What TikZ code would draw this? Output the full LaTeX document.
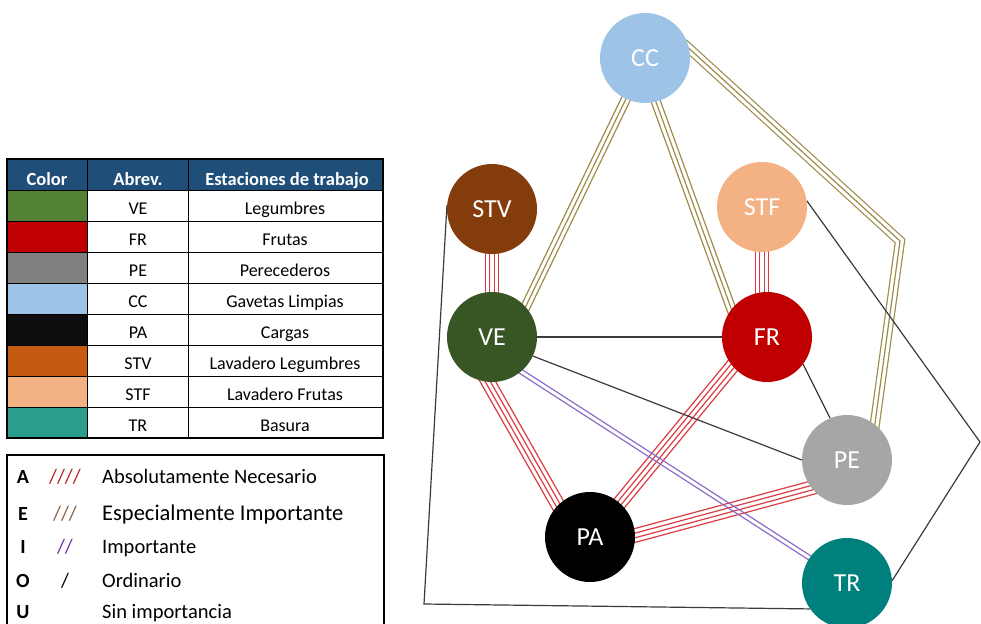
\documentclass[tikz,border=0pt]{standalone}
\usepackage{fontspec}
\setmainfont{Carlito}
\usetikzlibrary{calc}

\pgfdeclarelayer{bg}
\pgfsetlayers{bg,main}

% station colours
\definecolor{cVE}{HTML}{375623}
\definecolor{cFR}{HTML}{C00000}
\definecolor{cPE}{HTML}{A6A6A6}
\definecolor{cCC}{HTML}{9DC3E6}
\definecolor{cPA}{HTML}{000000}
\definecolor{cSTV}{HTML}{843C0C}
\definecolor{cSTF}{HTML}{F4B183}
\definecolor{cTR}{HTML}{00807D}
% swatches in the table
\definecolor{sVE}{HTML}{548235}
\definecolor{sFR}{HTML}{C00000}
\definecolor{sPE}{HTML}{808080}
\definecolor{sCC}{HTML}{9DC3E6}
\definecolor{sPA}{HTML}{0D0D0D}
\definecolor{sSTV}{HTML}{C55A11}
\definecolor{sSTF}{HTML}{F4B183}
\definecolor{sTR}{HTML}{2A9D8F}
% relation line colours
\definecolor{relA}{HTML}{DC3C40}
\definecolor{relE}{HTML}{9C8C48}
\definecolor{relI}{HTML}{8B6CC8}
\definecolor{relO}{HTML}{3A3A3A}
\definecolor{hdrblue}{HTML}{1F4E79}
\definecolor{symA}{HTML}{B02020}
\definecolor{symE}{HTML}{8B5E3C}
\definecolor{symI}{HTML}{7030A0}

% parallel strokes between two points (count, style)
\newcommand\multi[4]{%
  \foreach \k in {1,...,#3}{%
    \pgfmathsetmacro\off{(\k-(#3+1)/2)*4.5}%
    \draw[#4] ($(#1)!\off pt!90:(#2)$) -- ($(#2)!\off pt!-90:(#1)$);
  }}

\tikzset{
  station/.style={circle, minimum size=90pt, inner sep=0pt, text=white,
    font=\fontsize{26}{30}\selectfont},
  rel/.style={line width=1.2pt, shorten <=-8pt, shorten >=-8pt},
  lineA/.style={rel, relA},
  lineE/.style={rel, relE},
  lineI/.style={rel, relI},
  lineO/.style={line width=1.2pt, relO},
  grid/.style={line width=1.2pt, black},
  cell/.style={inner sep=0pt, font=\fontsize{18}{21}\selectfont},
  hdrtxt/.style={inner sep=0pt, text=white, font=\fontsize{18.5}{21}\selectfont\bfseries},
  lgtxt/.style={inner sep=0pt, font=\fontsize{20.5}{24}\selectfont},
}

\begin{document}
\begin{tikzpicture}[x=1pt,y=-1pt]
\useasboundingbox (0,0) rectangle (981,623);

% ---------- station table ----------
\fill[hdrblue] (7,159) rectangle (383,190);
\node[hdrtxt, anchor=base] (hColor) at (47,185.5) {Color};
\node[hdrtxt, anchor=base] (hAbrev) at (138,185.5) {Abrev.};
\node[hdrtxt, anchor=base] (hEst) at (287,185.5) {Estaciones de trabajo};
\foreach \sw/\ab/\nm [count=\i from 0] in {
    sVE/VE/Legumbres, sFR/FR/Frutas, sPE/PE/Perecederos,
    sCC/CC/Gavetas Limpias, sPA/PA/Cargas, sSTV/STV/Lavadero Legumbres,
    sSTF/STF/Lavadero Frutas, sTR/TR/Basura}{
  \pgfmathsetmacro\yt{190+31*\i}
  \fill[\sw] (7,\yt) rectangle (87,\yt+31);
  \node[cell, anchor=base] (ab\i) at (138,\yt+24.5) {\ab};
  \node[cell, anchor=base] (nm\i) at (285,\yt+24.5) {\nm};
}
\foreach \i in {0,...,7}{
  \draw[grid, line width=1pt] (7,190+31*\i) -- (383,190+31*\i);
}
\draw[grid, line width=1pt] (87,159) -- (87,438);
\draw[grid, line width=1pt] (188,159) -- (188,438);
\draw[grid] (7,159) rectangle (383,438);

% ---------- relation legend ----------
\draw[grid] (7,455) rectangle (384,660);
\foreach \l/\s/\t/\yb/\fs [count=\i] in {
    A/{\color{symA}////}/Absolutamente Necesario/483/20.5,
    E/{\color{symE}///}/Especialmente Importante/520/22.5,
    I/{\color{symI}//}/Importante/553/20.5,
    O/{/}/Ordinario/587/20.5,
    U/{}/Sin importancia/618/20.5}{
  \node[lgtxt, anchor=base, font=\fontsize{20}{24}\selectfont\bfseries] (key\i) at (23,\yb) {\l};
  \node[lgtxt, anchor=base] (sym\i) at (65,\yb) {\s};
  \node[lgtxt, anchor=base west, font=\fontsize{\fs}{24}\selectfont] (txt\i) at (102,\yb) {\t};
}

% ---------- stations ----------
\node[station, fill=cCC]  (CC)  at (645,58)  {CC};
\node[station, fill=cSTV] (STV) at (492,209) {STV};
\node[station, fill=cSTF] (STF) at (762,207) {STF};
\node[station, fill=cVE]  (VE)  at (492,337) {VE};
\node[station, fill=cFR]  (FR)  at (767,337) {FR};
\node[station, fill=cPE]  (PE)  at (847,460) {PE};
\node[station, fill=cPA]  (PA)  at (590,537) {PA};
\node[station, fill=cTR]  (TR)  at (847,583) {TR};

\coordinate (frtop) at (STF |- FR);
\coordinate (bendE) at (900,241);
\coordinate (bendR) at (980,442);
\coordinate (bendL) at (424,604);

% ---------- relations ----------
\begin{pgfonlayer}{bg}
  % A: absolutely necessary
  \multi{STV}{VE}{4}{lineA}
  \multi{STF}{frtop}{4}{lineA}
  \multi{VE.265}{PA.135}{4}{lineA}
  \multi{FR.220}{PA.49}{4}{lineA}
  \multi{PA.2}{PE.218}{4}{lineA}
  % E: especially important
  \multi{CC.245}{VE.42}{3}{lineE}
  \multi{CC.284}{FR.142}{3}{lineE}
  \draw[relE, line width=10.2pt, line join=miter, shorten <=-8pt, shorten >=-8pt]
    (CC.12) -- (bendE) -- (PE.52);
  \draw[white, line width=7.8pt, line join=miter, shorten <=-8pt, shorten >=-8pt]
    (CC.12) -- (bendE) -- (PE.52);
  \draw[lineE, line join=miter] (CC.12) -- (bendE) -- (PE.52);
  % I: important
  \multi{VE.310}{TR.146}{2}{lineI}
  % O: ordinary
  \draw[lineO] (VE) -- (FR);
  \draw[lineO] (VE.335) -- (PE.180);
  \draw[lineO] (FR.323) -- (PE.112);
  \draw[lineO, line join=miter] (STF.8) -- (bendR) -- (TR.3);
  \draw[lineO, line join=miter] (STV.175) -- (bendL) -- (TR.215);
\end{pgfonlayer}
\end{tikzpicture}
\end{document}
